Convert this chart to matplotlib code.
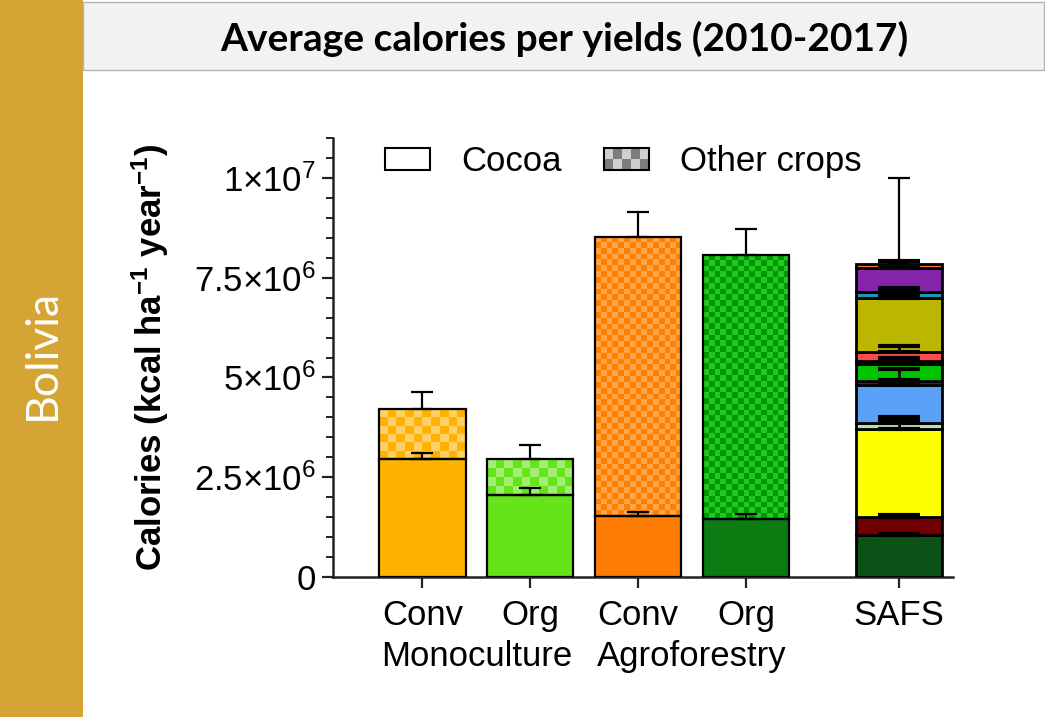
import numpy as np
import matplotlib
matplotlib.use('Agg')
import matplotlib.pyplot as plt
from matplotlib.patches import Rectangle
from matplotlib.legend_handler import HandlerBase
from matplotlib.ticker import MultipleLocator

plt.rcParams['font.family'] = ['Liberation Sans', 'DejaVu Sans']
plt.rcParams['mathtext.default'] = 'regular'

# cocoa / other-crop calories for the four single-crop systems (kcal ha-1 year-1)
systems = ['Conv', 'Org', 'Conv', 'Org']
group_names = ['Monoculture', 'Agroforestry']
cocoa = [2.95e6, 2.05e6, 1.52e6, 1.46e6]
cocoa_err = [0.15e6, 0.17e6, 0.10e6, 0.13e6]
other = [1.25e6, 0.90e6, 7.00e6, 6.62e6]
other_err = [0.43e6, 0.35e6, 0.62e6, 0.65e6]

# SAFS: calories of each crop, stacked bottom to top
safs_vals = [1.05e6, 0.45e6, 2.22e6, 0.13e6, 0.97e6, 0.08e6, 0.43e6,
             0.09e6, 0.23e6, 1.35e6, 0.15e6, 0.60e6, 0.10e6]
safs_err = [0.03e6, 0.05e6, 0.28e6, 0.05e6, 0.40e6, 0.04e6, 0.05e6,
            0.08e6, 0.13e6, 0.04e6, 0.10e6, 0.18e6, 2.15e6]
safs_colors = ['#0c5216', '#700000', '#ffff00', '#b6e2b0', '#5aa2f8', '#1c3a2a',
               '#00c400', '#1a6b55', '#ff4a4a', '#bdb600', '#1b98b4', '#8424a8',
               '#f07820']

ytick_vals = [0, 2.5e6, 5e6, 7.5e6, 1e7]
ytick_labels = ['0', '2.5×10$^{6}$', '5×10$^{6}$', '7.5×10$^{6}$', '1×10$^{7}$']

# styling for the single-crop bars
x_pos = [0, 1, 2, 3]
safs_x = 4.42
cocoa_colors = ['#ffb300', '#66e41a', '#ff7d05', '#0c7c12']
checker_colors = [('#ffb300', '#fdd068'), ('#66e41a', '#a3ee72'),
                  ('#ff8000', '#ffa548'), ('#009800', '#22c822')]
checker_px = [8.7, 8.7, 5.8, 5.8]
bar_w = 0.8
FS = 25


class CheckerKey:
    pass


class CheckerHandler(HandlerBase):
    def create_artists(self, legend, orig_handle, xdescent, ydescent,
                       width, height, fontsize, trans):
        arts = []
        nx, ny = 5, 2
        for i in range(nx):
            for j in range(ny):
                c = '#7d7d7d' if (i + j) % 2 == 0 else '#cfcfcf'
                arts.append(Rectangle((-xdescent + i * width / nx, -ydescent + j * height / ny),
                                      width / nx, height / ny, facecolor=c,
                                      edgecolor='none', transform=trans))
        arts.append(Rectangle((-xdescent, -ydescent), width, height, facecolor='none',
                              edgecolor='black', lw=1.5, transform=trans))
        return arts


fig = plt.figure(figsize=(10.45, 7.17), dpi=100)

# side band and title box
fig.add_artist(Rectangle((0, 0), 83 / 1045, 1, transform=fig.transFigure,
                         facecolor='#d4a535', edgecolor='none'))
fig.add_artist(Rectangle((83 / 1045, 1 - 70 / 717), 1 - 84 / 1045, 68 / 717,
                         transform=fig.transFigure, facecolor='#f2f2f2',
                         edgecolor='#b4b4b4', lw=1))
fig.text(564 / 1045, 1 - 39 / 717, 'Average calories per yields (2010-2017)',
         family='Lato', weight='bold', fontsize=28, ha='center', va='center')
fig.text(42 / 1045, 1 - 355 / 717, 'Bolivia', family='Lato', fontsize=32,
         color='white', rotation=90, ha='center', va='center')

ax = fig.add_axes([333 / 1045, 140 / 717, 620 / 1045, 439 / 717])
ax.set_xlim(-0.83, 4.92)
ax.set_ylim(0, 1.1e7)
fig.canvas.draw()


def px_size(x0, x1, y0, y1):
    p0 = ax.transData.transform((x0, y0))
    p1 = ax.transData.transform((x1, y1))
    return abs(p1[0] - p0[0]), abs(p1[1] - p0[1])


for i, x in enumerate(x_pos):
    # cocoa part
    ax.bar(x, cocoa[i], bar_w, color=cocoa_colors[i], edgecolor='black', lw=1.6, zorder=3)
    # other crops part: outline bar with a checker image clipped to it
    top = cocoa[i] + other[i]
    outline = ax.bar(x, other[i], bar_w, bottom=cocoa[i], facecolor='none',
                     edgecolor='black', lw=1.6, zorder=4)[0]
    wpx, hpx = px_size(x - bar_w / 2, x + bar_w / 2, cocoa[i], top)
    nc = max(1, int(round(wpx / checker_px[i])))
    nr = max(1, int(round(hpx / checker_px[i])))
    c1 = np.array(matplotlib.colors.to_rgb(checker_colors[i][0]))
    c2 = np.array(matplotlib.colors.to_rgb(checker_colors[i][1]))
    grid = (np.add.outer(np.arange(nr), np.arange(nc)) % 2)[..., None]
    img = np.where(grid == 0, c1, c2)
    im = ax.imshow(img, extent=[x - bar_w / 2, x + bar_w / 2, cocoa[i], top],
                   origin='lower', aspect='auto', interpolation='nearest', zorder=2)
    im.set_clip_path(outline)
    ax.errorbar(x, cocoa[i], yerr=[[0], [cocoa_err[i]]], fmt='none', ecolor='black',
                elinewidth=1.6, capsize=8, capthick=1.6, zorder=5)
    ax.errorbar(x, top, yerr=[[0], [other_err[i]]], fmt='none', ecolor='black',
                elinewidth=1.6, capsize=8, capthick=1.6, zorder=5)

# SAFS stacked bar
bottom = 0
for j, v in enumerate(safs_vals):
    ax.bar(safs_x, v, bar_w, bottom=bottom, color=safs_colors[j], edgecolor='black',
           lw=2, zorder=3)
    last = j == len(safs_vals) - 1
    ax.errorbar(safs_x, bottom + v, yerr=[[0], [safs_err[j]]], fmt='none', ecolor='black',
                elinewidth=2 if not last else 1.6, capsize=8 if last else 15,
                capthick=3 if not last else 1.6, zorder=5)
    bottom += v

ax.set_ylim(0, 1.1e7)
ax.set_xlim(-0.83, 4.92)
ax.set_yticks(ytick_vals)
ax.set_yticklabels(ytick_labels, fontsize=FS)
ax.yaxis.set_minor_locator(MultipleLocator(0.5e6))
ax.set_xticks(x_pos + [safs_x])
ax.set_xticklabels(systems + ['SAFS'], fontsize=FS)
for k, name in enumerate(group_names):
    ax.text(0.5 + 2 * k, -0.182, name, fontsize=FS, ha='center', va='center',
            transform=ax.get_xaxis_transform())

ax.set_ylabel('Calories (kcal ha$^{-1}$ year$^{-1}$)', fontsize=FS, fontweight='bold')
ax.yaxis.set_label_coords(-0.262, 0.5)

for s in ['top', 'right']:
    ax.spines[s].set_visible(False)
for s in ['left', 'bottom']:
    ax.spines[s].set_linewidth(1.8)
    ax.spines[s].set_color('#222222')
ax.tick_params(axis='y', which='major', length=8, width=1.6, pad=4, color='#222222')
ax.tick_params(axis='y', which='minor', length=5, width=1.4, color='#222222')
ax.tick_params(axis='x', length=8, width=1.6, pad=8, color='#222222')

ax.legend([Rectangle((0, 0), 1, 1, facecolor='white', edgecolor='black', lw=1.5), CheckerKey()],
          ['Cocoa', 'Other crops'], handler_map={CheckerKey: CheckerHandler()},
          ncol=2, frameon=False, fontsize=FS, loc='upper left',
          bbox_to_anchor=(0.062, 1.015), handlelength=1.3, handleheight=0.6,
          columnspacing=1.2, handletextpad=0.9, borderaxespad=0)

fig.savefig('out.png', dpi=100)
